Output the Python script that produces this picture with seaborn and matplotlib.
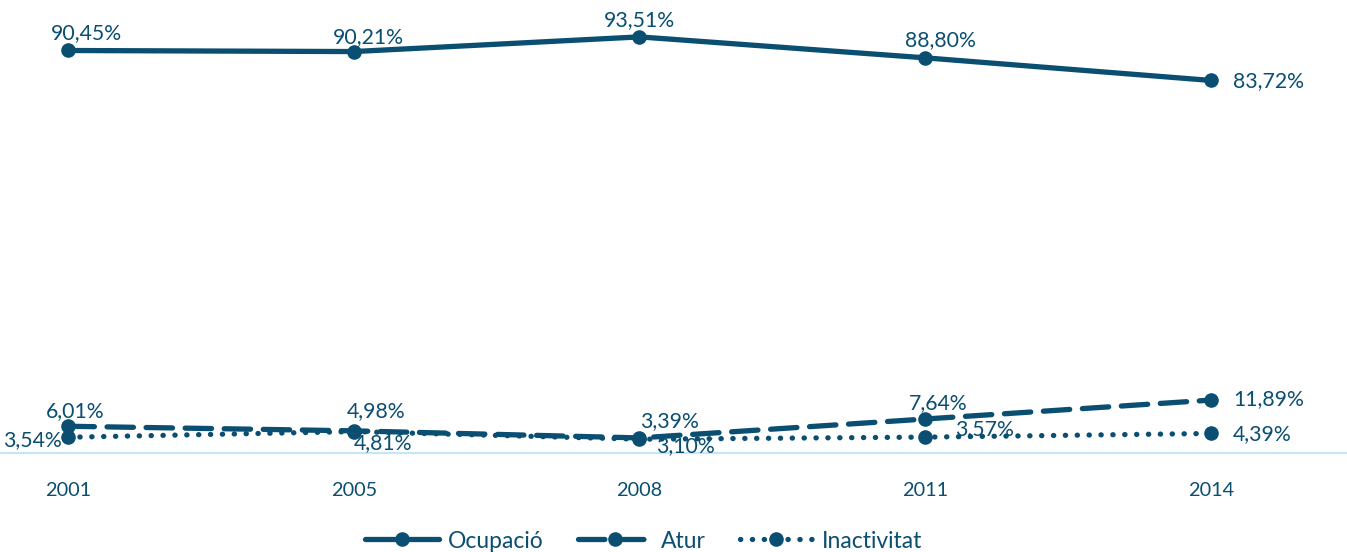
import matplotlib
matplotlib.use("Agg")
import matplotlib.pyplot as plt
import seaborn as sns
import pandas as pd

years = ["2001", "2005", "2008", "2011", "2014"]
ocupacio = [90.45, 90.21, 93.51, 88.80, 83.72]
atur = [6.01, 4.98, 3.39, 7.64, 11.89]
inactivitat = [3.54, 4.81, 3.10, 3.57, 4.39]
series_names = ["Ocupació", "Atur", "Inactivitat"]

# label offsets in pixels (dx, dy up-positive) and horizontal alignment
label_offsets = {
    "Ocupació": [(18, 17, "center"), (15, 14, "center"), (0, 17, "center"), (15, 18, "center"), (22, -1, "left")],
    "Atur": [(7, 15, "center"), (22, 20, "center"), (30, 17, "center"), (13, 16, "center"), (22, 1, "left")],
    "Inactivitat": [(-6, -3, "right"), (29, -11, "center"), (46, -7, "center"), (30, 8, "left"), (22, -1, "left")],
}

color = "#0a4e71"
sns.set_theme(style="white")
plt.rcParams["font.family"] = ["Lato", "DejaVu Sans"]

df = pd.DataFrame({
    "year": years * 3,
    "value": ocupacio + atur + inactivitat,
    "serie": [s for s in series_names for _ in years],
})
df["x"] = df["year"].map({y: i for i, y in enumerate(years)})

fig = plt.figure(figsize=(13.47, 5.52), dpi=100)
ax = fig.add_axes([0, (552 - 453) / 552, 1, 453 / 552])

sns.lineplot(
    data=df, x="x", y="value", style="serie", style_order=series_names,
    dashes={"Ocupació": "", "Atur": (5, 2.4), "Inactivitat": (0.05, 2.2)},
    markers={"Ocupació": "o", "Atur": "o", "Inactivitat": "o"},
    color=color, linewidth=3.8, markersize=10.5, markeredgewidth=0,
    dash_capstyle="round", solid_capstyle="round",
    legend=False, ax=ax,
)

px = 0.72
for name, vals in zip(series_names, [ocupacio, atur, inactivitat]):
    for i, v in enumerate(vals):
        dx, dy, ha = label_offsets[name][i]
        ax.annotate(f"{v:.2f}".replace(".", ",") + "%", (i, v),
                    xytext=(dx * px, dy * px), textcoords="offset points",
                    ha=ha, va="center", fontsize=15.3, color=color)

ax.set_xlim(-68 / 285.75, (1347 - 68) / 285.75)
ax.set_ylim(0, 453 / 4.45)
ax.set_xticks(range(len(years)))
ax.set_xticklabels(years)
ax.set_yticks([])
ax.set_xlabel("")
ax.set_ylabel("")
ax.tick_params(axis="x", length=0, pad=21, labelsize=14.3, labelcolor=color)
for sp in ["top", "left", "right"]:
    ax.spines[sp].set_visible(False)
ax.spines["bottom"].set_color("#c5e6f7")
ax.spines["bottom"].set_linewidth(1.5)
ax.patch.set_alpha(0)

handles = list(ax.lines[:3])
leg = fig.legend(handles, series_names, loc="center", bbox_to_anchor=(644 / 1347, 1 - 541 / 552),
                 ncol=3, frameon=False, fontsize=16.5, handlelength=3.2, columnspacing=1.5,
                 handletextpad=0.4, labelcolor=color)

fig.savefig("out.png", dpi=100)
